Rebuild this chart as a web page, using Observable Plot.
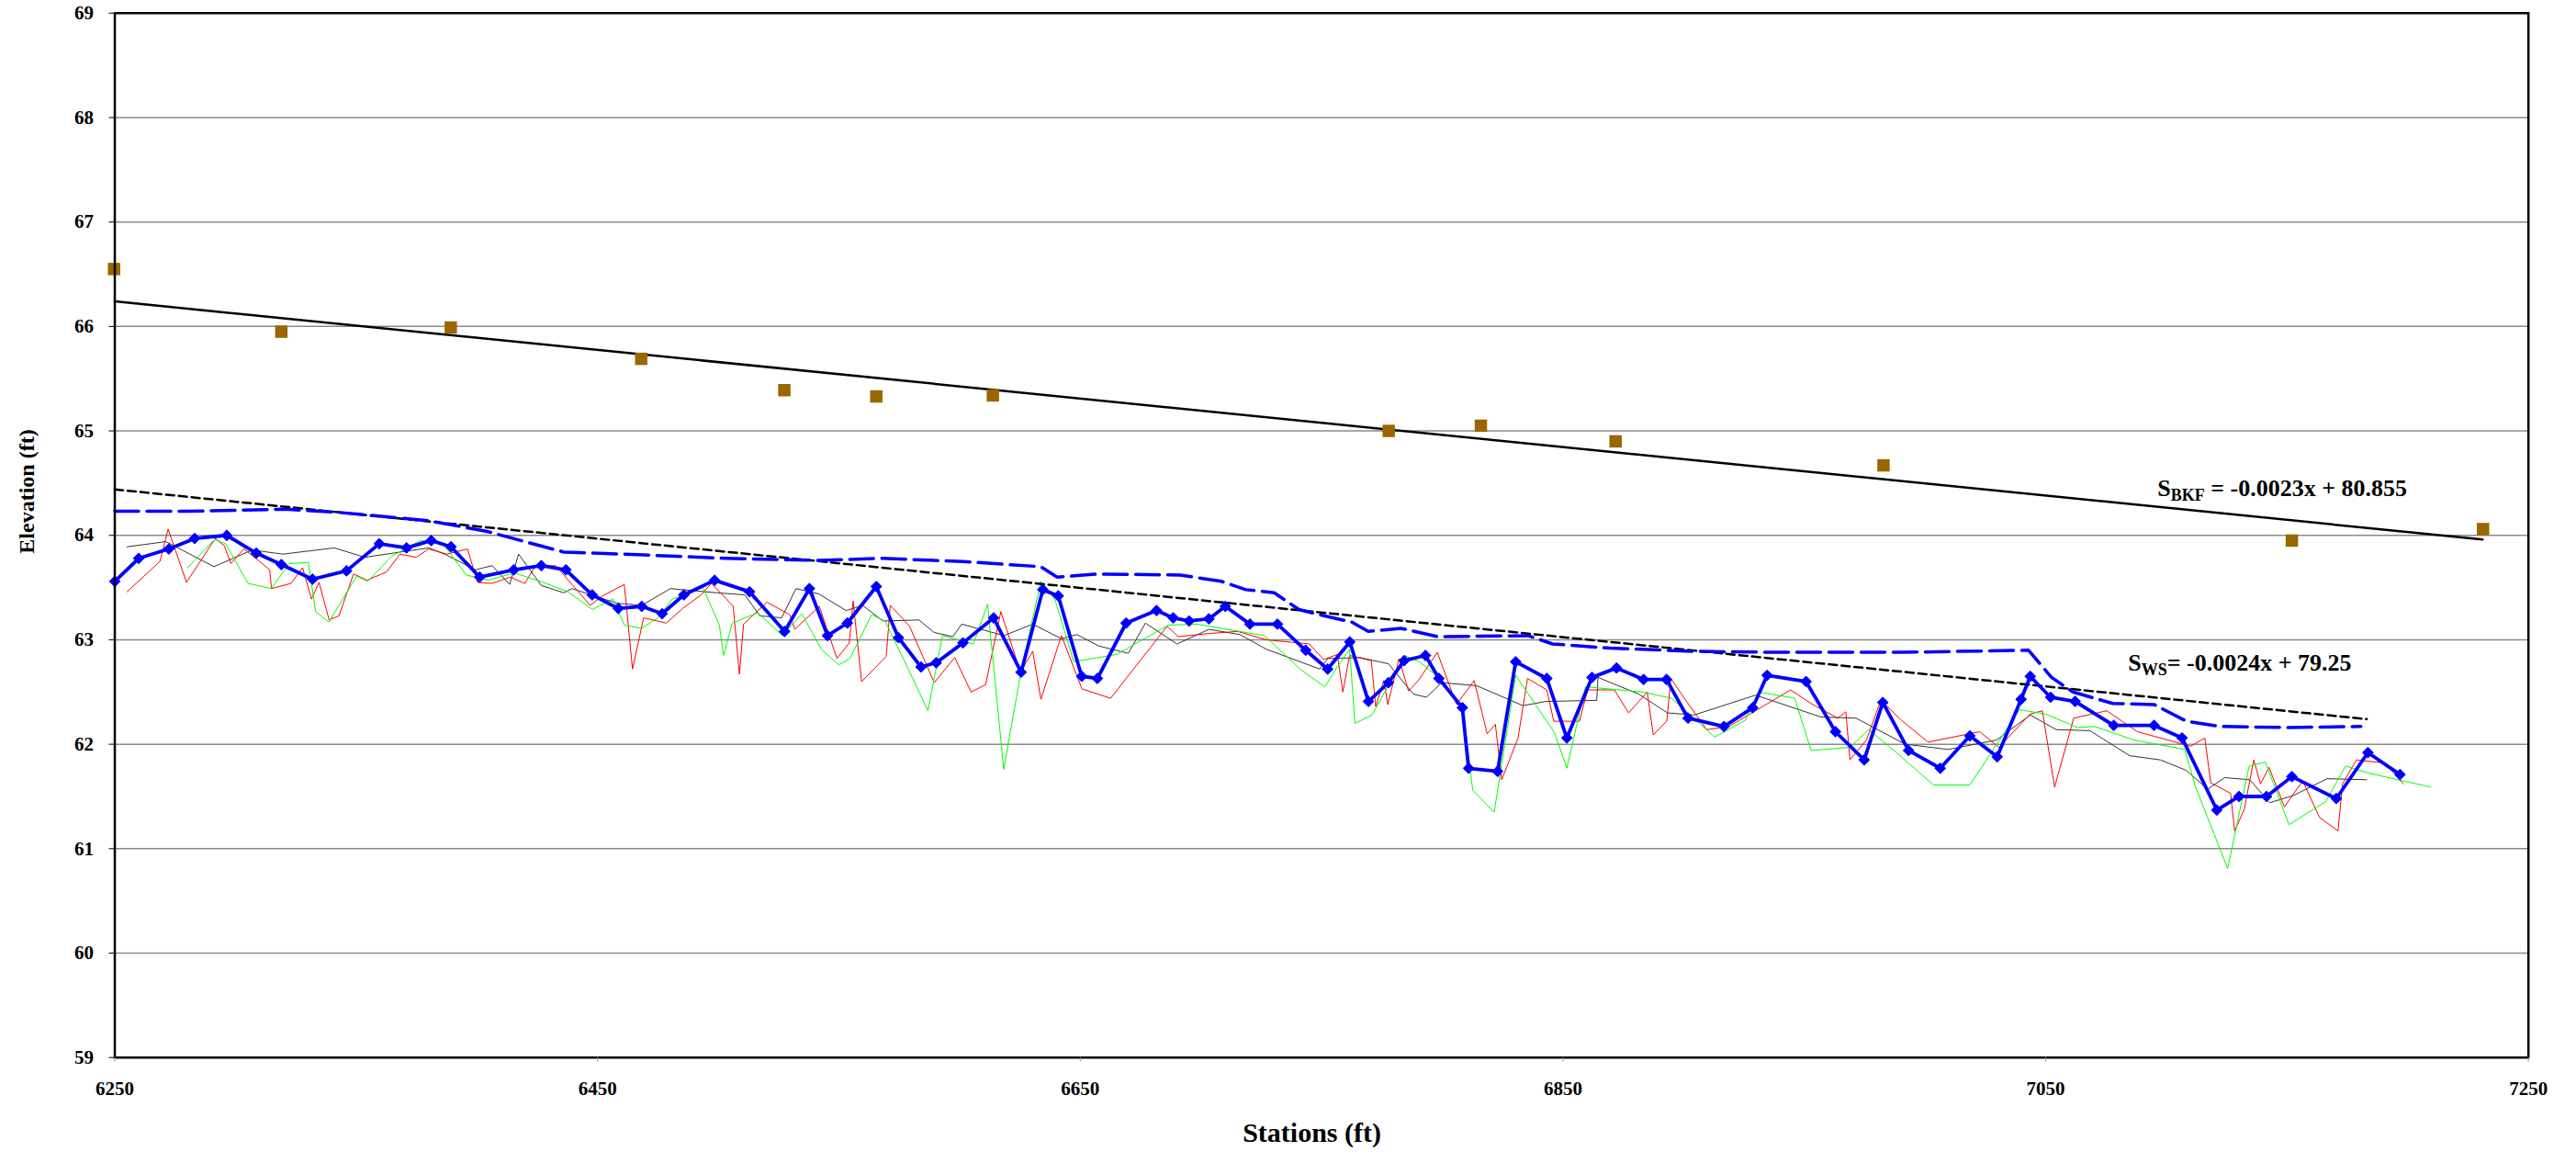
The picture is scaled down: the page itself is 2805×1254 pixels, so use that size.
<!DOCTYPE html>
<html><head><meta charset="utf-8">
<script src="https://cdn.jsdelivr.net/npm/d3@7"></script>
<script src="https://cdn.jsdelivr.net/npm/@observablehq/plot@0.6"></script>
<style>
html,body{margin:0;padding:0;background:#fff;}
#chart{width:2805px;height:1254px;overflow:hidden;}
</style></head><body><div id="chart"></div>
<script>
// ---- Data ----
const xTicks = [6250, 6450, 6650, 6850, 7050, 7250];
const yTicks = [59, 60, 61, 62, 63, 64, 65, 66, 67, 68, 69];

// Thalweg profile (blue, diamonds)
const thalwegStation = [6250, 6259.9, 6272.4, 6283.1, 6296.4, 6308.6, 6319.0, 6331.9, 6346.0, 6359.6,
  6370.9, 6381.1, 6389.3, 6401.2, 6415.3, 6426.7, 6436.9, 6447.8, 6458.6, 6468.3,
  6476.8, 6485.8, 6498.5, 6513.0, 6527.5, 6537.8, 6545.3, 6553.5, 6565.5, 6574.7,
  6584.0, 6590.3, 6601.4, 6614.1, 6625.5, 6634.5, 6640.9, 6650.6, 6657.1, 6669.0,
  6681.6, 6688.5, 6695.1, 6703.3, 6710.1, 6720.3, 6731.7, 6743.4, 6752.5, 6761.7,
  6769.4, 6777.7, 6784.2, 6793.0, 6798.6, 6808.3, 6810.9, 6822.9, 6830.4, 6843.3,
  6851.6, 6862.0, 6872.2, 6883.4, 6892.9, 6901.8, 6916.7, 6928.6, 6934.6, 6950.7,
  6962.9, 6974.8, 6982.5, 6993.2, 7006.3, 7018.6, 7029.9, 7039.8, 7043.6, 7052.0,
  7062.2, 7078.2, 7094.9, 7106.5, 7120.9, 7130.1, 7141.5, 7152.0, 7170.4, 7183.5, 7196.8];
const thalwegElev = [63.56, 63.78, 63.87, 63.97, 64.00, 63.83, 63.72, 63.58, 63.66, 63.92,
  63.88, 63.95, 63.89, 63.60, 63.67, 63.71, 63.67, 63.43, 63.30, 63.32,
  63.25, 63.43, 63.57, 63.46, 63.08, 63.49, 63.04, 63.16, 63.51, 63.02,
  62.74, 62.78, 62.97, 63.21, 62.69, 63.48, 63.42, 62.65, 62.63, 63.16,
  63.28, 63.21, 63.18, 63.20, 63.32, 63.15, 63.15, 62.90, 62.72, 62.98,
  62.41, 62.59, 62.80, 62.85, 62.63, 62.35, 61.77, 61.74, 62.79, 62.63,
  62.06, 62.64, 62.73, 62.62, 62.62, 62.25, 62.17, 62.35, 62.66, 62.60,
  62.12, 61.85, 62.40, 61.94, 61.77, 62.08, 61.88, 62.43, 62.65, 62.45,
  62.41, 62.18, 62.18, 62.06, 61.37, 61.50, 61.50, 61.69, 61.48, 61.92, 61.71];

// Water surface (blue dashed)
const wsStation = [6250, 6279.7, 6320.5, 6342.6, 6380, 6403.8, 6436, 6461.5, 6503, 6541.9,
  6567.4, 6601.4, 6633.6, 6640.4, 6657.4, 6691.4, 6708.4, 6718.6, 6730.4, 6740.6,
  6751, 6762.5, 6769.3, 6782.8, 6798.1, 6835.5, 6845.7, 6869.5, 6903.5, 6937.4,
  6990, 7042.9, 7052.4, 7061.3, 7077.8, 7094.9, 7108.3, 7122.2, 7150.1, 7180.6];
const wsElev = [64.23, 64.23, 64.25, 64.22, 64.14, 64.04, 63.84, 63.82, 63.78, 63.76,
  63.78, 63.75, 63.70, 63.60, 63.63, 63.62, 63.56, 63.48, 63.45, 63.29,
  63.23, 63.17, 63.08, 63.11, 63.03, 63.04, 62.96, 62.92, 62.89, 62.88,
  62.88, 62.90, 62.64, 62.50, 62.39, 62.38, 62.22, 62.17, 62.16, 62.17];

// Older survey profiles (thin lines)
const blackStation = [6255.1, 6271.2, 6291.1, 6306.9, 6319.6, 6340.9, 6353.6, 6380, 6386.7, 6399.5,
  6406.3, 6413.6, 6417.3, 6426.7, 6436, 6439.4, 6458.1, 6468.3, 6480.2, 6499.4,
  6511, 6517.3, 6526.3, 6532.2, 6541.6, 6553, 6559.8, 6568.3, 6583.1, 6589.5,
  6597.2, 6600.9, 6618.4, 6630.3, 6642.2, 6648.6, 6657.8, 6669.9, 6677, 6690.1,
  6703.3, 6716.1, 6727.1, 6749.2, 6752.6, 6765.9, 6777.7, 6788, 6793.4, 6799.8,
  6814.3, 6833.4, 6843.1, 6864, 6864.5, 6881.4, 6893.3, 6904.3, 6929.8, 6957,
  6971.4, 6991.8, 7009.6, 7029.6, 7043.6, 7054.3, 7068.3, 7084.8, 7097.5, 7108.2,
  7117.1, 7124.1, 7134.6, 7142.8, 7152.7, 7166.6, 7182.9];
const blackElev = [63.89, 63.94, 63.70, 63.86, 63.82, 63.88, 63.79, 63.88, 63.82, 63.67,
  63.71, 63.53, 63.82, 63.52, 63.45, 63.49, 63.35, 63.33, 63.49, 63.45,
  63.43, 63.23, 63.21, 63.49, 63.44, 63.28, 63.33, 63.18, 63.19, 63.07,
  63.03, 63.15, 63.04, 63.15, 63.01, 63.05, 62.94, 62.87, 63.16, 62.96,
  63.10, 63.05, 62.91, 62.72, 62.82, 62.83, 62.77, 62.48, 62.45, 62.59,
  62.56, 62.37, 62.41, 62.42, 62.64, 62.48, 62.30, 62.28, 62.47, 62.26,
  62.25, 62.00, 61.95, 62.04, 62.28, 62.14, 62.13, 61.89, 61.85, 61.75,
  61.57, 61.68, 61.66, 61.44, 61.51, 61.67, 61.66];

const redStation = [6255.1, 6268.7, 6272.1, 6279.7, 6291.6, 6295.4, 6298.1, 6303.5, 6309.5, 6314.2,
  6314.9, 6323, 6327.8, 6331.5, 6334.6, 6338.8, 6342.9, 6348.9, 6354.5, 6362.6,
  6368.1, 6374.9, 6380, 6387.6, 6396.1, 6400.3, 6406.3, 6413.9, 6419.9, 6424.1,
  6432.6, 6447, 6452.1, 6461.1, 6464.5, 6469.1, 6478.5, 6485.3, 6492.9, 6497.2,
  6503, 6506.2, 6508.8, 6510.5, 6520.2, 6529.7, 6531.7, 6541.9, 6549.2, 6554.3,
  6555.9, 6559.4, 6569.6, 6571.3, 6579.3, 6589.5, 6598, 6604.8, 6610.8, 6617.1,
  6625.2, 6630.3, 6633.7, 6642.2, 6650.7, 6662.6, 6686, 6690.6, 6703.3, 6715.2,
  6727.1, 6744.9, 6750.9, 6756.5, 6758.8, 6761.6, 6770.6, 6772.4, 6775.8, 6777.4,
  6782.1, 6786, 6790.1, 6797.9, 6805.9, 6813.2, 6818.6, 6822, 6824.6, 6831.4,
  6835.3, 6843.3, 6846.2, 6856.8, 6860.2, 6871.3, 6877.2, 6884.9, 6887.4, 6893,
  6894.7, 6901.8, 6909.5, 6918.8, 6944.3, 6952.8, 6963.8, 6967.2, 6968.9, 6975.7,
  6981.7, 6990.2, 7001.3, 7022.6, 7030.6, 7043.6, 7048.6, 7053.7, 7061.6, 7075.3,
  7088, 7110.1, 7115.9, 7118.4, 7126.6, 7128.3, 7132.3, 7136.2, 7139, 7142.5,
  7148.9, 7156.5, 7163.4, 7171.1, 7173, 7178.7, 7190.7, 7198.1];
const redElev = [63.46, 63.75, 64.06, 63.55, 63.97, 63.90, 63.73, 63.87, 63.76, 63.67,
  63.49, 63.54, 63.69, 63.39, 63.55, 63.19, 63.23, 63.63, 63.57, 63.65,
  63.82, 63.79, 63.87, 63.82, 63.87, 63.55, 63.54, 63.60, 63.54, 63.70,
  63.71, 63.33, 63.42, 63.53, 62.72, 63.21, 63.16, 63.30, 63.43, 63.54,
  63.40, 63.32, 62.67, 63.15, 63.36, 63.24, 63.10, 63.32, 62.82, 62.97,
  63.37, 62.60, 62.84, 63.33, 63.13, 62.59, 62.83, 62.50, 62.57, 63.27,
  62.69, 62.89, 62.43, 63.04, 62.53, 62.44, 63.13, 63.03, 63.06, 63.08,
  63.00, 62.96, 62.81, 62.86, 62.50, 62.85, 62.80, 62.36, 62.61, 62.38,
  62.82, 62.51, 62.61, 62.88, 62.38, 62.61, 62.10, 62.19, 61.66, 62.06,
  62.63, 62.52, 62.22, 62.22, 62.52, 62.52, 62.30, 62.50, 62.09, 62.22,
  62.63, 62.39, 62.14, 62.17, 62.52, 62.39, 62.25, 62.31, 61.85, 62.04,
  62.42, 62.23, 62.02, 62.12, 61.97, 62.29, 62.32, 61.59, 62.25, 62.32,
  62.12, 61.98, 62.06, 61.63, 61.53, 61.17, 61.38, 61.85, 61.62, 61.78,
  61.40, 61.65, 61.30, 61.17, 61.62, 61.85, 61.82, 61.62];

const greenStation = [6280.1, 6291.3, 6295.9, 6305.2, 6314.9, 6322.2, 6330.2, 6333.2, 6338.7, 6350.2,
  6354.8, 6364.7, 6376.6, 6385.9, 6395.6, 6404.6, 6415.6, 6427.5, 6437.7, 6447.9,
  6456.4, 6461.1, 6468.3, 6475, 6481, 6493.7, 6500.5, 6502.2, 6505.8, 6516.4,
  6526.6, 6534.7, 6542.7, 6550, 6554.6, 6563.6, 6569.1, 6576.7, 6586.9, 6592.9,
  6605.7, 6611.6, 6618.3, 6625.5, 6633.7, 6639.6, 6647.3, 6665.1, 6686.4, 6698.3,
  6726.3, 6741.6, 6751.3, 6756.5, 6761.6, 6763.8, 6770.9, 6784.5, 6790.5, 6798.6,
  6808.3, 6812.6, 6821.5, 6830.4, 6846.5, 6851.6, 6859.3, 6883.1, 6895, 6912.8,
  6925.6, 6931.2, 6946, 6952.8, 6969, 6976.6, 6988.2, 7003.5, 7018.6, 7039.1,
  7049.9, 7063.2, 7070.2, 7086.7, 7107.6, 7112.1, 7125.4, 7134.3, 7141, 7150.8,
  7166, 7174.2, 7184.4, 7209.5];
const greenElev = [63.69, 63.96, 63.92, 63.54, 63.49, 63.73, 63.74, 63.27, 63.17, 63.61,
  63.56, 63.80, 63.95, 63.92, 63.62, 63.57, 63.64, 63.55, 63.46, 63.29,
  63.39, 63.14, 63.11, 63.21, 63.39, 63.50, 63.14, 62.85, 63.16, 63.26,
  63.04, 63.25, 62.91, 62.76, 62.82, 63.24, 63.18, 62.82, 62.32, 63.04,
  62.96, 63.34, 61.76, 62.70, 63.56, 63.38, 62.79, 62.86, 63.14, 63.15,
  63.04, 62.71, 62.55, 62.74, 62.91, 62.20, 62.28, 62.85, 62.79, 62.64,
  62.36, 61.56, 61.35, 62.66, 62.11, 61.77, 62.55, 62.50, 62.44, 62.07,
  62.23, 62.50, 62.44, 61.94, 61.97, 62.14, 61.92, 61.61, 61.61, 62.33,
  62.29, 62.16, 62.17, 62.04, 61.95, 61.59, 60.81, 61.79, 61.83, 61.23,
  61.45, 61.79, 61.72, 61.59];

// Bankfull points (brown squares)
const bkfStation = [6249.7, 6319.0, 6389.2, 6468.1, 6527.4, 6565.5, 6613.8, 6777.8, 6816.0, 6871.8, 6982.8, 7152.0, 7231.2];
const bkfElev = [66.55, 65.95, 65.99, 65.69, 65.39, 65.33, 65.34, 65.00, 65.05, 64.90, 64.67, 63.95, 64.06];

// Trend lines (as drawn)
const bkfTrendStation = [6250, 7231];
const bkfTrendElev = [66.24, 63.96];
const wsTrendStation = [6250, 7183];
const wsTrendElev = [64.44, 62.24];

// Equation labels
const eqMain = ["S", "S"];
const eqSub = ["BKF", "WS"];
const eqRest = [" = -0.0023x + 80.855", "= -0.0024x + 79.25"];
const eqStation = [7096.5, 7084.3];
const eqElev = [64.37, 62.70];

// ---- Build ----
const pts = (xs, ys) => xs.map((x, i) => ({x, y: ys[i]}));
const FONT = "'Liberation Serif', 'Times New Roman', Times, serif";

const chart = Plot.plot({
  width: 2805,
  height: 1254,
  marginLeft: 124.5,
  marginRight: 52.3,
  marginTop: 13.8,
  marginBottom: 103.3,
  style: {fontFamily: FONT, fontSize: "21px", fontWeight: "bold", background: "#fff", color: "#000", overflow: "visible"},
  x: {domain: [6250, 7250], label: null},
  y: {domain: [59, 69], label: null},
  marks: [
    Plot.gridY(yTicks, {stroke: "#8a8a8a", strokeOpacity: 1, strokeWidth: 1.5}),
    Plot.line(pts(blackStation, blackElev), {x: "x", y: "y", stroke: "#333333", strokeWidth: 1}),
    Plot.line(pts(redStation, redElev), {x: "x", y: "y", stroke: "#ff0000", strokeWidth: 1}),
    Plot.line(pts(greenStation, greenElev), {x: "x", y: "y", stroke: "#00ff00", strokeWidth: 1}),
    Plot.line(pts(wsTrendStation, wsTrendElev), {x: "x", y: "y", stroke: "#000", strokeWidth: 2.5, strokeDasharray: "9,5"}),
    Plot.line(pts(bkfTrendStation, bkfTrendElev), {x: "x", y: "y", stroke: "#000", strokeWidth: 2.5}),
    Plot.line(pts(wsStation, wsElev), {x: "x", y: "y", stroke: "#0000ff", strokeWidth: 3.5, strokeDasharray: "26,9"}),
    Plot.line(pts(thalwegStation, thalwegElev), {x: "x", y: "y", stroke: "#0000ff", strokeWidth: 3.8}),
    Plot.dot(pts(thalwegStation, thalwegElev), {x: "x", y: "y", symbol: "diamond2", r: 5.3, fill: "#0000ff", stroke: "#0000ff", strokeWidth: 1}),
    Plot.dot(pts(bkfStation, bkfElev), {x: "x", y: "y", symbol: "square", r: 7.6, fill: "#996600"}),
    Plot.frame({stroke: "#000", strokeWidth: 2.5}),
    Plot.axisY(yTicks, {tickSize: 6, tickPadding: 17, stroke: "#000", fill: "#000", label: null, tickFormat: d => String(d)}),
    Plot.axisX(xTicks, {tickSize: 5, tickPadding: 21, stroke: "#999", fill: "#000", label: null, tickFormat: d => String(d)})
  ]
});

document.getElementById("chart").appendChild(chart);

const svg = d3.select(chart);
const sx = chart.scale("x"), sy = chart.scale("y");

// Axis titles
svg.append("text")
  .attr("x", (124.5 + 2805 - 52.3) / 2 - 10)
  .attr("y", 1243)
  .attr("text-anchor", "middle")
  .style("font-family", FONT).style("font-weight", "bold").style("font-size", "30px")
  .attr("fill", "#000")
  .text("Stations (ft)");

svg.append("text")
  .attr("transform", "translate(37,535) rotate(-90)")
  .attr("text-anchor", "middle")
  .style("font-family", FONT).style("font-weight", "bold").style("font-size", "24px")
  .attr("fill", "#000")
  .text("Elevation (ft)");

// Equation labels with subscripts
eqMain.forEach((m, i) => {
  const t = svg.append("text")
    .attr("x", sx.apply(eqStation[i]))
    .attr("y", sy.apply(eqElev[i]))
    .attr("text-anchor", "start")
    .style("font-family", FONT).style("font-weight", "bold").style("font-size", "26px")
    .attr("fill", "#000");
  t.append("tspan").text(m);
  t.append("tspan").attr("dy", 5).style("font-size", "18px").text(eqSub[i]);
  t.append("tspan").attr("dy", -5).text(eqRest[i]);
});
</script>
</body></html>
